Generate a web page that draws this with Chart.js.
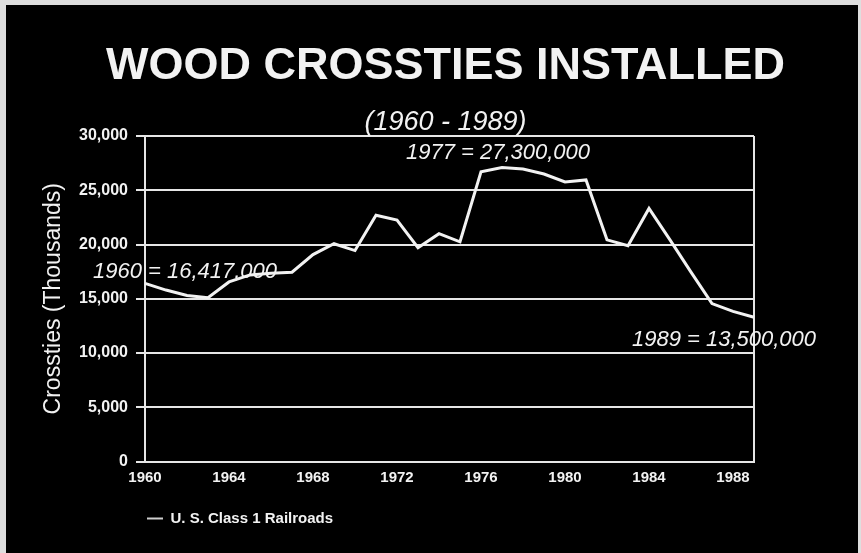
<!DOCTYPE html>
<html>
<head>
<meta charset="utf-8">
<script src="https://cdn.jsdelivr.net/npm/chart.js@4"></script>
<style>
  html, body { margin: 0; padding: 0; background: #000; }
  #wrap { width: 861px; height: 553px; }
</style>
</head>
<body>
<div id="wrap"><canvas id="myChart" width="861" height="553"></canvas></div>
<script>
const years = [
  '1960', '1961', '1962', '1963', '1964', '1965', '1966', '1967', '1968', '1969',
  '1970', '1971', '1972', '1973', '1974', '1975', '1976', '1977', '1978', '1979',
  '1980', '1981', '1982', '1983', '1984', '1985', '1986', '1987', '1988', '1989'
];
// crossties installed, thousands
const crossties = [
  16417, 15800, 15300, 15100, 16550, 17200, 17350, 17450, 19070, 20070,
  19440, 22700, 22250, 19700, 21000, 20250, 26700, 27100, 26950, 26500,
  25760, 25950, 20430, 19890, 23320, 20430, 17450, 14550, 13830, 13300
];
const yTicks = [0, 5000, 10000, 15000, 20000, 25000, 30000];
const noteYears = ['1960', '1977', '1989'];
const noteLabels = ['1960 = 16,417,000', '1977 = 27,300,000', '1989 = 13,500,000'];

const FONT = "'Liberation Sans', Arial, Helvetica, sans-serif";
const INK = '#f2f2f2';

// frame + annotation texts
const extras = {
  id: 'extras',
  beforeDraw(chart) {
    const c = chart.ctx;
    c.save();
    c.fillStyle = '#dedede';
    c.fillRect(0, 0, chart.width, chart.height);
    c.fillStyle = '#000';
    c.fillRect(6, 5, chart.width - 9, chart.height - 5);
    c.restore();
  },
  afterDatasetsDraw(chart) {
    const c = chart.ctx;
    const x = chart.scales.x, y = chart.scales.y;
    const offs = [[40, -12], [-4, -15], [-30, 23]];
    c.save();
    c.font = 'italic 22px ' + FONT;
    c.fillStyle = INK;
    c.textAlign = 'center';
    c.textBaseline = 'middle';
    noteYears.forEach((yr, i) => {
      const idx = years.indexOf(yr);
      const px = x.getPixelForValue(idx);
      const py = y.getPixelForValue(crossties[idx]);
      c.fillText(noteLabels[i], px + offs[i][0], py + offs[i][1]);
    });
    c.restore();
  }
};

const ctx = document.getElementById('myChart');

new Chart(ctx, {
  type: 'line',
  data: {
    labels: years,
    datasets: [{
      label: 'U. S. Class 1 Railroads',
      data: crossties,
      borderColor: INK,
      backgroundColor: INK,
      borderWidth: 3,
      pointRadius: 0,
      tension: 0
    }]
  },
  options: {
    responsive: false,
    animation: false,
    layout: { padding: { left: 30, top: 0, right: 0, bottom: 17 } },
    plugins: {
      title: {
        display: true,
        text: 'WOOD CROSSTIES INSTALLED',
        color: INK,
        font: { family: FONT, size: 45, weight: 'bold', lineHeight: 1 },
        padding: { top: 44, bottom: 0 }
      },
      subtitle: {
        display: true,
        text: '(1960 - 1989)',
        color: INK,
        font: { family: FONT, size: 27, style: 'italic', lineHeight: 1 },
        padding: { top: 20, bottom: 0 }
      },
      legend: {
        position: 'bottom',
        align: 'start',
        fullSize: false,
        labels: {
          color: INK,
          font: { family: FONT, size: 15, weight: 'bold' },
          boxWidth: 16,
          boxHeight: 2,
          padding: 2,
          generateLabels(chart) {
            const items = Chart.defaults.plugins.legend.labels.generateLabels(chart);
            items.forEach(it => { it.lineWidth = 0; it.fillStyle = '#cfcfcf'; });
            return items;
          }
        }
      },
      tooltip: { enabled: false }
    },
    scales: {
      x: {
        grid: {
          drawTicks: false,
          lineWidth: 2,
          color: c => c.index === years.length - 1 ? '#e6e6e6' : 'rgba(0,0,0,0)'
        },
        border: { display: true, color: '#e6e6e6', width: 2 },
        ticks: {
          color: INK,
          autoSkip: false,
          maxRotation: 0,
          padding: 7,
          font: { family: FONT, size: 15, weight: 'bold' },
          callback: (v, i) => (i % 4 === 0 && i < years.length - 1) ? years[i] : ''
        },
        afterFit(scale) { scale.height += 15.5; }
      },
      y: {
        min: 0,
        max: 30000,
        afterBuildTicks(scale) { scale.ticks = yTicks.map(v => ({ value: v })); },
        grid: { color: '#e6e6e6', lineWidth: 2, tickLength: 9 },
        border: { display: true, color: '#e6e6e6', width: 2 },
        ticks: {
          color: INK,
          padding: 8,
          font: { family: FONT, size: 16, weight: 'bold' }
        },
        title: {
          display: true,
          text: 'Crossties (Thousands)',
          color: INK,
          font: { family: FONT, size: 23 },
          padding: { top: 10, bottom: 0 }
        },
        afterFit(scale) { scale.width = 115; }
      },
      // empty right-hand margin so the titles centre on the whole page
      y2: {
        position: 'right',
        grid: { display: false },
        border: { display: false },
        ticks: { display: false },
        afterFit(scale) { scale.width = 107; }
      }
    }
  },
  plugins: [extras]
});
</script>
</body>
</html>
